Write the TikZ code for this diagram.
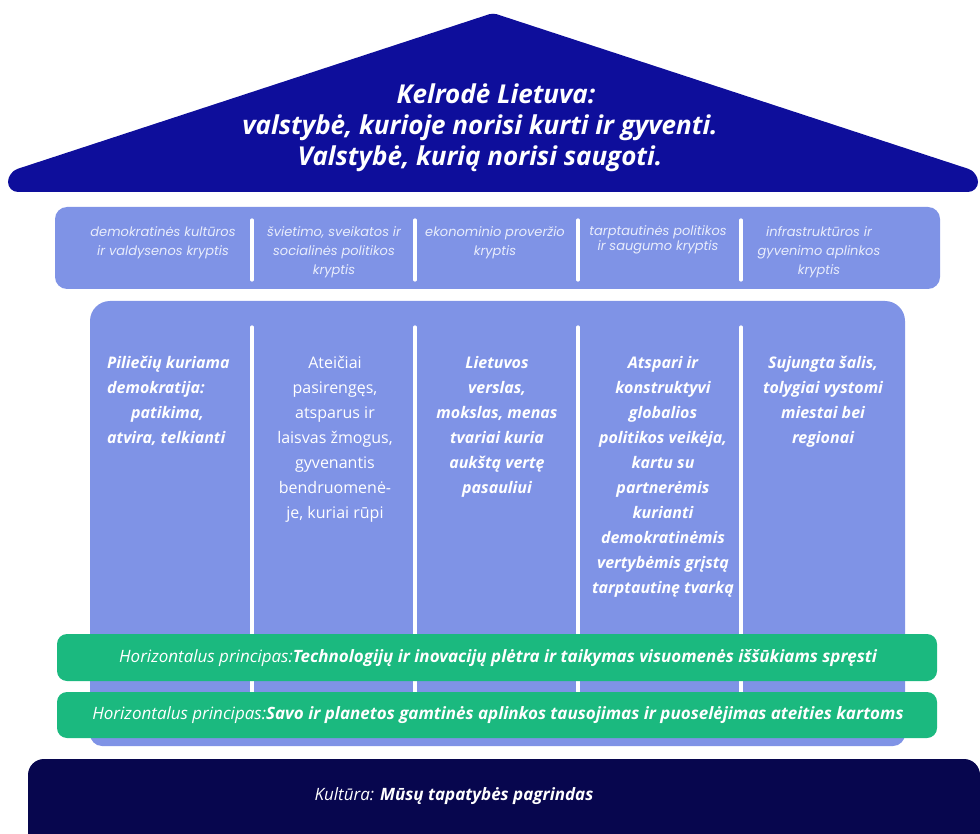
\documentclass[tikz,border=0pt]{standalone}
\usepackage{fontspec}
\setmainfont{Open Sans}
\newfontfamily\catfont{Poppins}
\definecolor{roofc}{HTML}{0E0E9B}
\definecolor{lav}{HTML}{7F93E6}
\definecolor{grn}{HTML}{1BB97F}
\definecolor{navyc}{HTML}{07064E}
\definecolor{cattxt}{HTML}{E9EDFC}
\tikzset{
  sepline/.style={white, line width=3.2pt, line cap=round},
  cattext/.style={text=cattxt, align=center, inner sep=0pt, font=\catfont\itshape\fontsize{13}{19}\selectfont},
  piltext/.style={text=white, align=center, inner sep=0pt, anchor=north, font=\bfseries\itshape\fontsize{16}{25}\selectfont},
  bartext/.style={text=white, inner sep=0pt, font=\fontsize{17}{20}\selectfont},
}
\begin{document}
\begin{tikzpicture}[x=1pt,y=-1pt]
\useasboundingbox (0,0) rectangle (980,834);
\clip (0,0) rectangle (980,834);
% roof
\fill[roofc] (300,192) [rounded corners=10] -- (8,192) -- (8,172) [rounded corners=4] -- (493,13) [rounded corners=10] -- (978,172) -- (978,192) -- cycle;
\node[text=white, align=center, inner sep=0pt, font=\bfseries\itshape\fontsize{26}{31}\selectfont] (title) at (480,127.5)
  {\hspace*{32pt}Kelrodė Lietuva:\\ valstybė, kurioje norisi kurti ir gyventi.\\ Valstybė, kurią norisi saugoti.};
% category bar
\fill[lav, rounded corners=12] (55,207) rectangle (940,289);
\foreach \x in {252,415,578,741} \draw[sepline] (\x,220) -- (\x,280);
\node[cattext] (c1) at (163,242.5) {demokratinės kultūros\\ ir valdysenos kryptis};
\node[cattext] (c2) at (334,252) {švietimo, sveikatos ir\\ socialinės politikos\\ kryptis};
\node[cattext] (c3) at (495,242.5) {ekonominio proveržio\\ kryptis};
\node[cattext, font=\catfont\itshape\fontsize{13}{15}\selectfont] (c4) at (658,239.5) {tarptautinės politikos\\ ir saugumo kryptis};
\node[cattext] (c5) at (819,252) {infrastruktūros ir\\ gyvenimo aplinkos\\ kryptis};
% main pillar block
\fill[lav] (500,301) [rounded corners=20] -- (90,301) [rounded corners=12] -- (90,746) -- (905,746) [rounded corners=20] -- (905,301) -- cycle;
\foreach \x in {252,415,578,741} \draw[sepline] (\x,327) -- (\x,736);
\node[piltext, anchor=north west, align=left] (p1) at (107,351)
  {\strut Piliečių kuriama\\ demokratija:\\ \hspace*{24pt}patikima,\\ atvira, telkianti};
\node[piltext, font=\fontsize{16}{25}\selectfont] (p2) at (335,351)
  {\strut Ateičiai\\ pasirengęs,\\ atsparus ir\\ laisvas žmogus,\\ gyvenantis\\ bendruomenė-\\ je, kuriai rūpi};
\node[piltext] (p3) at (497,351)
  {\strut Lietuvos\\ verslas,\\ mokslas, menas\\ tvariai kuria\\ aukštą vertę\\ pasauliui};
\node[piltext] (p4) at (663,351)
  {\strut Atspari ir\\ konstruktyvi\\ globalios\\ politikos veikėja,\\ kartu su\\ partnerėmis\\ kurianti\\ demokratinėmis\\ vertybėmis grįstą\\ tarptautinę tvarką};
\node[piltext] (p5) at (823,351)
  {\strut Sujungta šalis,\\ tolygiai vystomi\\ miestai bei\\ regionai};
% horizontal principles
\fill[grn, rounded corners=10] (57,634) rectangle (937,681);
\fill[grn, rounded corners=10] (57,692) rectangle (937,738);
\node[bartext] (h1) at (498,658) {\itshape Horizontalus principas:\textbf{Technologijų ir inovacijų plėtra ir taikymas visuomenės iššūkiams spręsti}};
\node[bartext] (h2) at (498,715) {\itshape Horizontalus principas:\textbf{Savo ir planetos gamtinės aplinkos tausojimas ir puoselėjimas ateities kartoms}};
% base
\fill[navyc, rounded corners=16] (28,759) rectangle (980,870);
\node[bartext] (base) at (454,796) {\itshape Kultūra: \textbf{Mūsų tapatybės pagrindas}};
\end{tikzpicture}
\end{document}
